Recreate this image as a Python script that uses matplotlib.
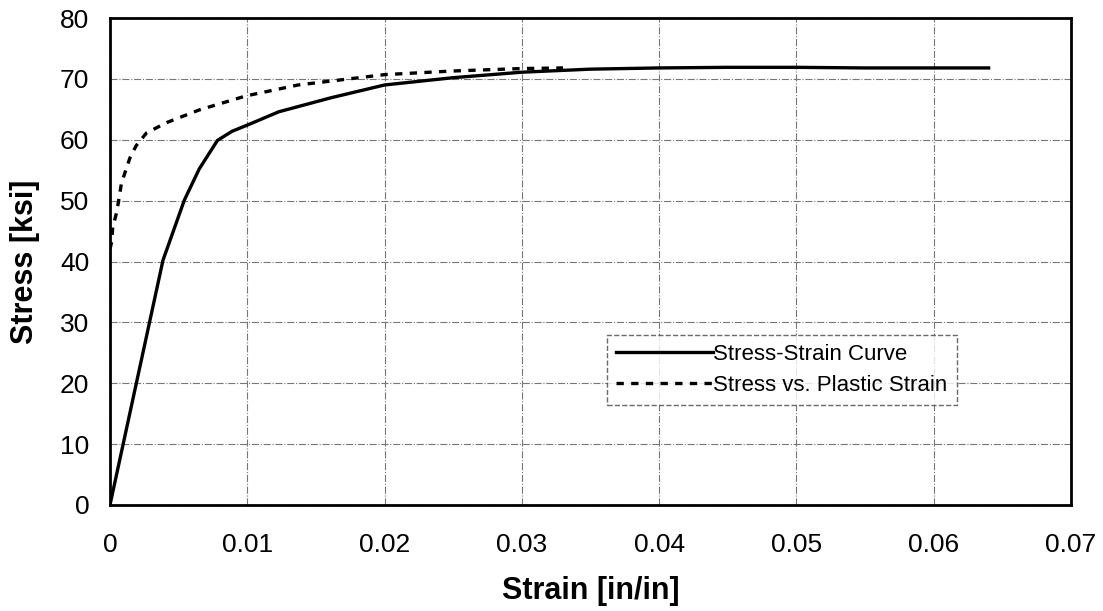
import matplotlib.pyplot as plt

plt.rcParams['font.family'] = ['Liberation Sans', 'DejaVu Sans']

# stress-strain curve
strain = [0, 0.00386, 0.00542, 0.0065, 0.00783, 0.0089, 0.0101, 0.0123, 0.0161,
          0.0200, 0.025, 0.03, 0.035, 0.04, 0.045, 0.05, 0.055, 0.06, 0.064]
stress = [0, 40.2, 50.1, 55.2, 59.9, 61.4, 62.5, 64.6, 66.9,
          69.0, 70.2, 71.1, 71.6, 71.8, 71.9, 71.9, 71.8, 71.8, 71.8]

# stress vs plastic strain
pstrain = [0, 0.00012, 0.0002, 0.0005, 0.00084, 0.00145, 0.0019, 0.00265, 0.0041,
           0.0065, 0.0099, 0.0137, 0.02, 0.025, 0.03, 0.033]
pstress = [42, 43.2, 45.6, 48.2, 52.9, 57, 59, 61.1, 62.8,
           64.9, 67.2, 69, 70.7, 71.3, 71.7, 71.8]

xticks = [0, 0.01, 0.02, 0.03, 0.04, 0.05, 0.06, 0.07]
xlabels = ['0', '0.01', '0.02', '0.03', '0.04', '0.05', '0.06', '0.07']
yticks = [0, 10, 20, 30, 40, 50, 60, 70, 80]

fig = plt.figure(figsize=(11.03, 6.11), dpi=100)
ax = fig.add_axes([0.0997, 0.1735, 0.8713, 0.797])

ax.plot(strain, stress, color='black', lw=2.4, label='Stress-Strain Curve')
ax.plot(pstrain, pstress, color='black', lw=2.4, ls=(0, (2.2, 2.2)),
        label='Stress vs. Plastic Strain')

ax.set_xlim(0, 0.07)
ax.set_ylim(0, 80)
ax.set_xticks(xticks)
ax.set_xticklabels(xlabels)
ax.set_yticks(yticks)
ax.tick_params(length=0, labelsize=19)
ax.tick_params(axis='x', pad=20)
ax.tick_params(axis='y', pad=15)
ax.grid(True, color='#777777', lw=0.8, ls='-.')
for s in ax.spines.values():
    s.set_linewidth(2.0)

ax.set_xlabel('Strain [in/in]', fontsize=22, fontweight='bold', labelpad=14)
ax.set_ylabel('Stress [ksi]', fontsize=22, fontweight='bold', labelpad=14)

leg = ax.legend(loc='upper left', bbox_to_anchor=(0.517, 0.349), fontsize=16,
                handlelength=4.4, handletextpad=0.0, frameon=True, fancybox=False,
                borderpad=0.4, labelspacing=0.45, borderaxespad=0)
leg.get_frame().set_edgecolor('#444444')
leg.get_frame().set_linewidth(1.0)
leg.get_frame().set_linestyle('--')

fig.savefig('out.png', dpi=100)
